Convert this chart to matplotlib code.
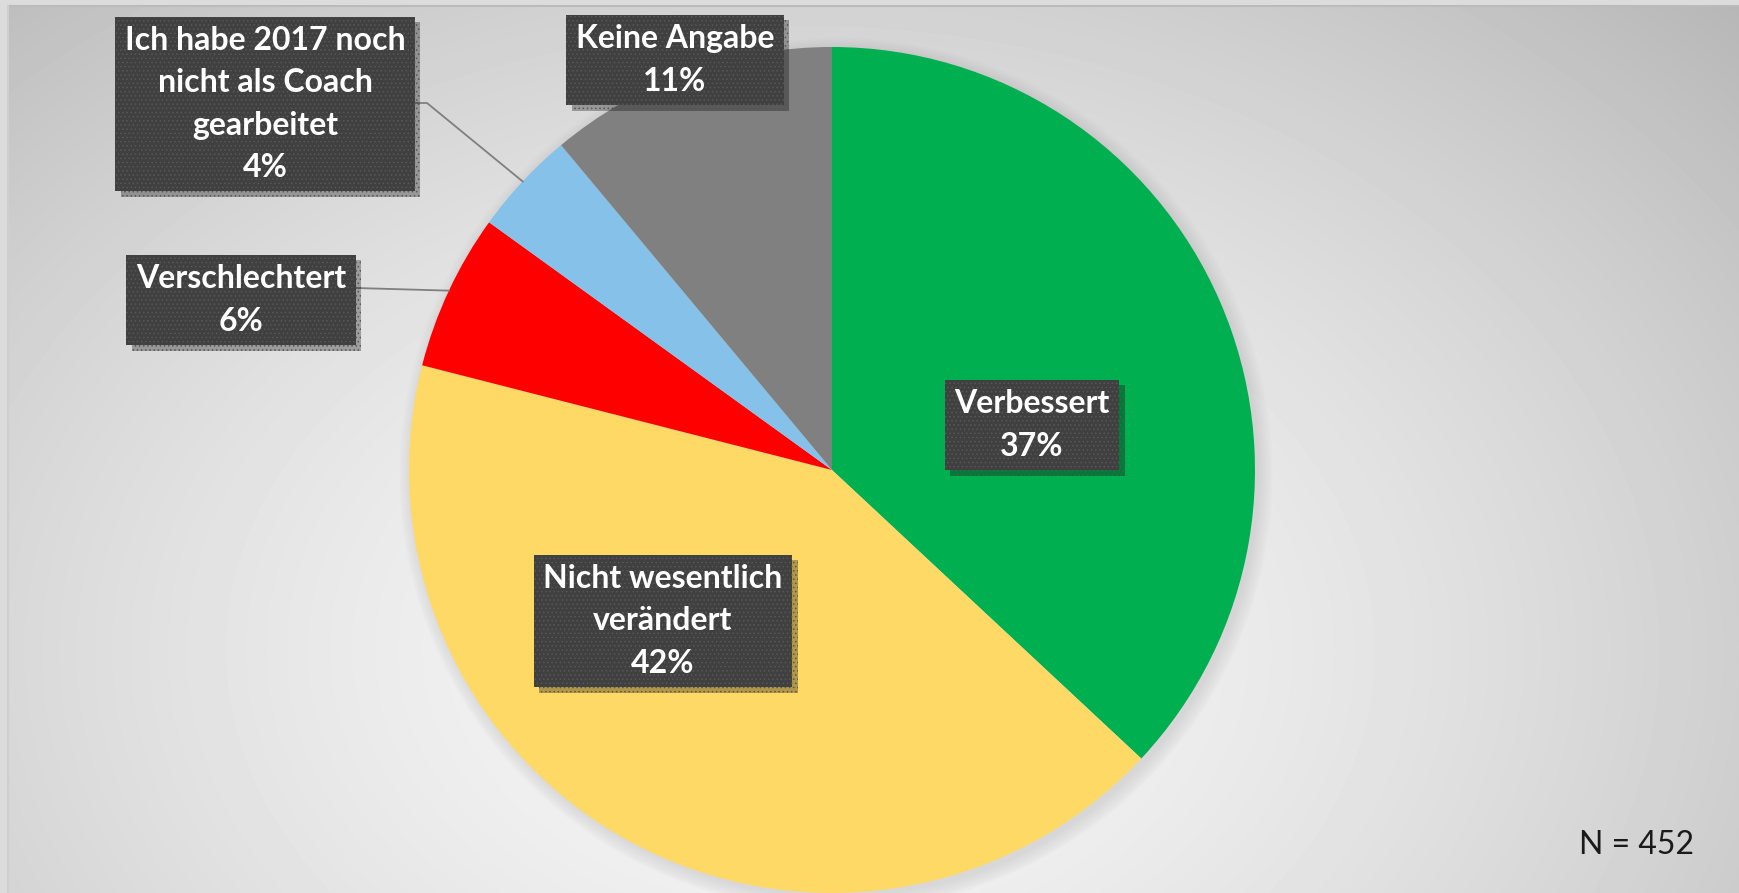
import numpy as np
import matplotlib.pyplot as plt
from matplotlib.patches import Circle
import matplotlib.patheffects as pe

# data
labels = ['Verbessert', 'Nicht wesentlich\nverändert', 'Verschlechtert',
          'Ich habe 2017 noch\nnicht als Coach\ngearbeitet', 'Keine Angabe']
counts = [167, 190, 27, 18, 50]
n_total = 452
colors = ['#00B050', '#FFD966', '#FF0000', '#85C1E9', '#808080']

# label box centres (pixels from top-left) and leader line starts
label_pos = [(1032, 425), (663, 621), (241, 300), (265, 104), (675, 60)]
leaders = {2: [(356, 288)], 3: [(416, 103), (427, 103)]}

W, H = 1740, 893
fig = plt.figure(figsize=(W / 100, H / 100), dpi=100)
fig.patch.set_facecolor('#dcdcdc')
ax = fig.add_axes([0, 0, 1, 1])
ax.axis('off')

# background gradient
yy, xx = np.mgrid[0:H - 6, 0:W - 8]
xx = xx + 8
d = np.sqrt(((xx - 800) / 1100.0) ** 2 + ((yy + 6 - 650) / 800.0) ** 2)
bg = np.clip(0.97 - 0.2 * d ** 1.5, 0, 1)
ax.imshow(bg, cmap='gray', vmin=0, vmax=1, extent=(8, W, 0, H - 6),
          origin='upper', aspect='auto', zorder=0, interpolation='bilinear')
ax.plot([8, W], [H - 6, H - 6], color='#bbbbbb', lw=1.5, zorder=1)
ax.plot([8, 8], [0, H - 6], color='#cfcfcf', lw=1.5, zorder=1)

cx, cy, R = 832, H - 470, 423

# soft shadow behind pie
for i in range(10):
    ax.add_patch(Circle((cx + 4, cy - 4), R + i * 1.5, color='#808080',
                        alpha=0.02, lw=0, zorder=1))

wedges, _ = ax.pie(counts, colors=colors, startangle=90, counterclock=False,
                   center=(cx, cy), radius=R, wedgeprops=dict(linewidth=0))
for w in wedges:
    w.set_zorder(2)

# leader lines
for i, pts in leaders.items():
    w = wedges[i]
    a = np.deg2rad((w.theta1 + w.theta2) / 2)
    end = (cx + R * np.cos(a), cy + R * np.sin(a))
    xs = [p[0] for p in pts] + [end[0]]
    ys = [H - p[1] for p in pts] + [end[1]]
    ax.plot(xs, ys, color='#7f7f7f', lw=1.3, zorder=3)

plt.rcParams['hatch.linewidth'] = 0.6
for i, (lab, c) in enumerate(zip(labels, counts)):
    pct = round(100 * c / n_total)
    x, y = label_pos[i]
    t = ax.text(x, H - y, f'{lab}\n{pct}%', ha='center', va='center',
                color='white', fontsize=23, fontweight='bold',
                family=['Lato', 'DejaVu Sans'], linespacing=1.55, zorder=5,
                bbox=dict(boxstyle='square,pad=0.3', fc='#404040',
                          ec='#575757', lw=0, hatch='....'))
    t.get_bbox_patch().set_path_effects(
        [pe.SimplePatchShadow(offset=(4, -4), shadow_rgbFace='#000000', alpha=0.3),
         pe.Normal()])

ax.text(1637, H - 845, f'N = {n_total}', ha='center', va='center',
        fontsize=23, fontweight='normal', color='#1a1a1a',
        family=['Lato', 'DejaVu Sans'], zorder=5)

ax.set_xlim(0, W)
ax.set_ylim(0, H)
ax.set_aspect('auto')
fig.savefig('out.png', dpi=100, facecolor=fig.get_facecolor())
